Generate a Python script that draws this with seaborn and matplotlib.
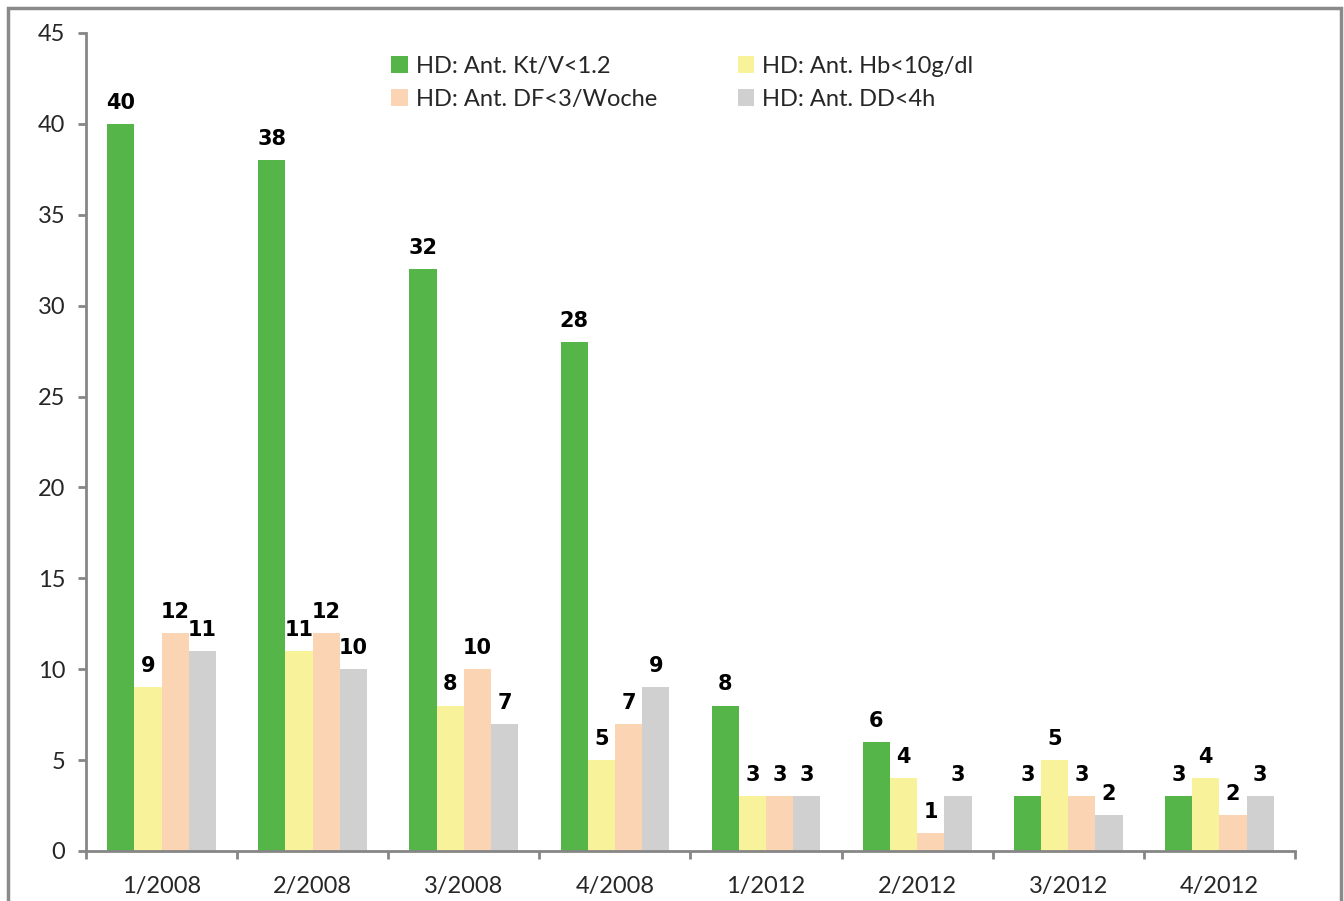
import matplotlib
matplotlib.use("Agg")
import matplotlib.pyplot as plt
import seaborn as sns
import pandas as pd
from matplotlib.patches import Rectangle
from matplotlib.ticker import FixedLocator

# Quarterly counts per indicator
quarters = ["1/2008", "2/2008", "3/2008", "4/2008", "1/2012", "2/2012", "3/2012", "4/2012"]
series_names = ["HD: Ant. Kt/V<1.2", "HD: Ant. Hb<10g/dl", "HD: Ant. DF<3/Woche", "HD: Ant. DD<4h"]
ktv = [40, 38, 32, 28, 8, 6, 3, 3]
hb = [9, 11, 8, 5, 3, 4, 5, 4]
df_week = [12, 12, 10, 7, 3, 1, 3, 2]
dd = [11, 10, 7, 9, 3, 3, 2, 3]
colors = ["#55B548", "#F8F29A", "#FBD4B4", "#D0D0D0"]

values = [ktv, hb, df_week, dd]
rows = []
for name, vals in zip(series_names, values):
    for q, v in zip(quarters, vals):
        rows.append({"Quartal": q, "Serie": name, "Wert": v})
data = pd.DataFrame(rows)

sns.set_style("white")
plt.rcParams["font.family"] = ["Lato", "DejaVu Sans"]

fig = plt.figure(figsize=(13.44, 9.01), dpi=100)
ax = fig.add_axes([0.064, 0.0555, 0.8995, 0.9079])

sns.barplot(data=data, x="Quartal", y="Wert", hue="Serie", order=quarters,
            hue_order=series_names, palette=colors, width=0.72, gap=0,
            saturation=1, edgecolor="none", linewidth=0, ax=ax, legend=True)

# Value labels above bars
for container in ax.containers:
    ax.bar_label(container, fmt="%d", padding=8, fontsize=15, fontweight="bold",
                 color="black", family=["DejaVu Sans"])

ax.set_ylim(0, 45)
ax.set_xlim(-0.5, len(quarters) - 0.5)
ax.set_yticks(range(0, 46, 5))
ax.set_xlabel("")
ax.set_ylabel("")

spine_color = "#868686"
for side in ["top", "right"]:
    ax.spines[side].set_visible(False)
for side in ["left", "bottom"]:
    ax.spines[side].set_color(spine_color)
    ax.spines[side].set_linewidth(2)

ax.tick_params(axis="y", which="major", length=6, width=2, color=spine_color,
               labelsize=17, pad=9, left=True)
ax.tick_params(axis="x", which="major", length=0, labelsize=17, pad=18)
ax.xaxis.set_minor_locator(FixedLocator([i - 0.5 for i in range(len(quarters) + 1)]))
ax.tick_params(axis="x", which="minor", length=6, width=2, color=spine_color,
               bottom=True, direction="out")

# Legend laid out row-wise: Kt/V, Hb on the first row; DF, DD on the second
handles, labels = ax.get_legend_handles_labels()
order = [0, 2, 1, 3]
leg = ax.legend([handles[i] for i in order], [labels[i] for i in order],
                loc="upper left", bbox_to_anchor=(0.235, 0.998), ncol=2, frameon=False,
                fontsize=17, handlelength=0.7, handleheight=0.7, handletextpad=0.35,
                columnspacing=3.4, labelspacing=0.5)

# Outer chart frame
fig.patches.append(Rectangle((8 / 1344, -0.01), 1333 / 1344, 1 - 8 / 901 + 0.01,
                             transform=fig.transFigure, fill=False,
                             edgecolor="#8A8A8A", linewidth=2.5))

fig.savefig("out.png", dpi=100)
